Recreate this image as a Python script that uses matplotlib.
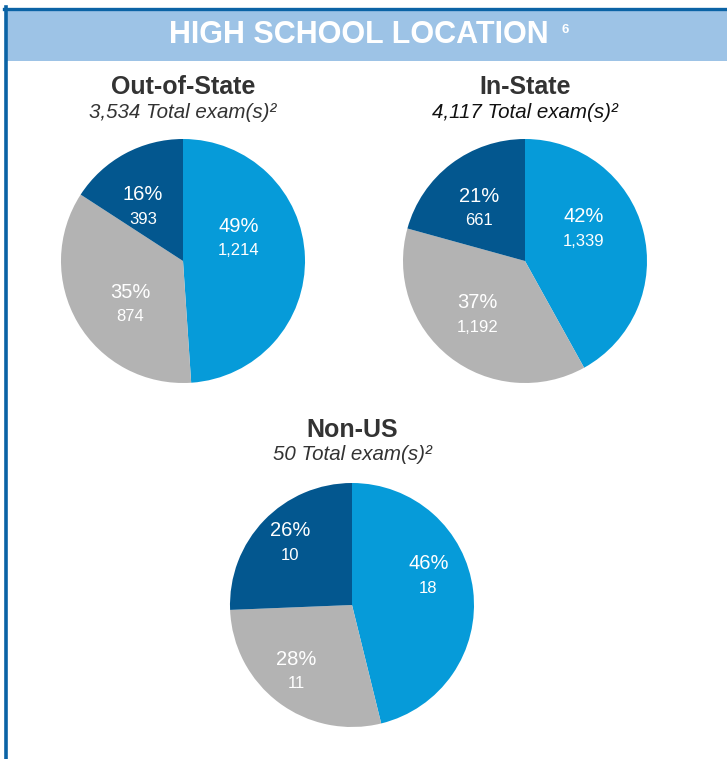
import matplotlib
matplotlib.use("Agg")
import matplotlib.pyplot as plt
import numpy as np
from matplotlib.patches import Rectangle
from matplotlib.lines import Line2D

# ---------------- data ----------------
groups = ["Out-of-State", "In-State", "Non-US"]
total_exams = ["3,534", "4,117", "50"]
slice_names = ["Segment A", "Segment B", "Segment C"]
out_of_state = [1214, 874, 393]
in_state = [1339, 1192, 661]
non_us = [18, 11, 10]
series = [out_of_state, in_state, non_us]

# ---------------- style / layout ----------------
W, H, DPI = 727, 759, 100
FONT = "Liberation Sans"
colors = ["#069BD9", "#B3B3B3", "#03578F"]
header_color = "#9DC3E6"
border_color = "#0B63A5"
title_color = "#333333"
subtitle_colors = ["#333333", "#111111", "#333333"]

pie_centers = [(183, 261), (525, 261), (352, 605)]   # pixels from top-left
pie_radius = 122
title_y = [87, 87, 430]
subtitle_y = [113, 113, 455]
# per slice: (angle shift from wedge middle in degrees, distance as fraction of radius)
label_layout = [
    [(20, 0.49), (9, 0.56), (8, 0.55)],
    [(14, 0.55), (-3, 0.59), (4, 0.57)],
    [(14, 0.67), (-3, 0.71), (-1, 0.72)],
]

fig = plt.figure(figsize=(W / DPI, H / DPI), dpi=DPI)
fig.patch.set_facecolor("white")


def fx(px):
    return px / W


def fy(py):
    return 1 - py / H


# header band and border
fig.patches.append(Rectangle((fx(7), fy(61)), 1 - fx(7), fy(10) - fy(61),
                             transform=fig.transFigure, facecolor=header_color,
                             edgecolor="none", zorder=0))
fig.lines.append(Line2D([fx(4), 1], [fy(8.5), fy(8.5)], transform=fig.transFigure,
                        color=border_color, linewidth=2.4))
fig.lines.append(Line2D([fx(6), fx(6)], [fy(7), 0], transform=fig.transFigure,
                        color=border_color, linewidth=2.6))
fig.text(fx(359), fy(35), "HIGH SCHOOL LOCATION", ha="center", va="center",
         color="white", fontsize=22, fontweight="bold", family=FONT)
fig.text(fx(565), fy(30), "6", ha="center", va="center",
         color="white", fontsize=9.5, fontweight="bold", family=FONT)

for i, vals in enumerate(series):
    cx, cy = pie_centers[i]
    r = pie_radius
    ax = fig.add_axes([fx(cx - r), fy(cy + r), (2 * r) / W, (2 * r) / H])
    wedges, _ = ax.pie(vals, colors=colors, startangle=90, counterclock=False,
                       radius=1, wedgeprops=dict(linewidth=0))
    ax.set_xlim(-1, 1)
    ax.set_ylim(-1, 1)
    ax.set_aspect("equal")
    ax.axis("off")
    tot = sum(vals)
    for j, (w, v) in enumerate(zip(wedges, vals)):
        mid = (w.theta1 + w.theta2) / 2
        shift, dist = label_layout[i][j]
        ang = np.deg2rad(mid + shift)
        x, y = dist * np.cos(ang), dist * np.sin(ang)
        pct = round(100 * v / tot)
        ax.text(x, y + 0.1, f"{pct}%", ha="center", va="center", color="white",
                fontsize=14.5, family=FONT)
        ax.text(x, y - 0.1, f"{v:,}", ha="center", va="center", color="white",
                fontsize=12, family=FONT)
    fig.text(fx(cx), fy(title_y[i]), groups[i], ha="center", va="center",
             color=title_color, fontsize=18, fontweight="bold", family=FONT)
    fig.text(fx(cx), fy(subtitle_y[i]), f"{total_exams[i]} Total exam(s)²",
             ha="center", va="center", color=subtitle_colors[i], fontsize=14.8,
             style="italic", family=FONT)

fig.savefig("out.png", dpi=DPI)
